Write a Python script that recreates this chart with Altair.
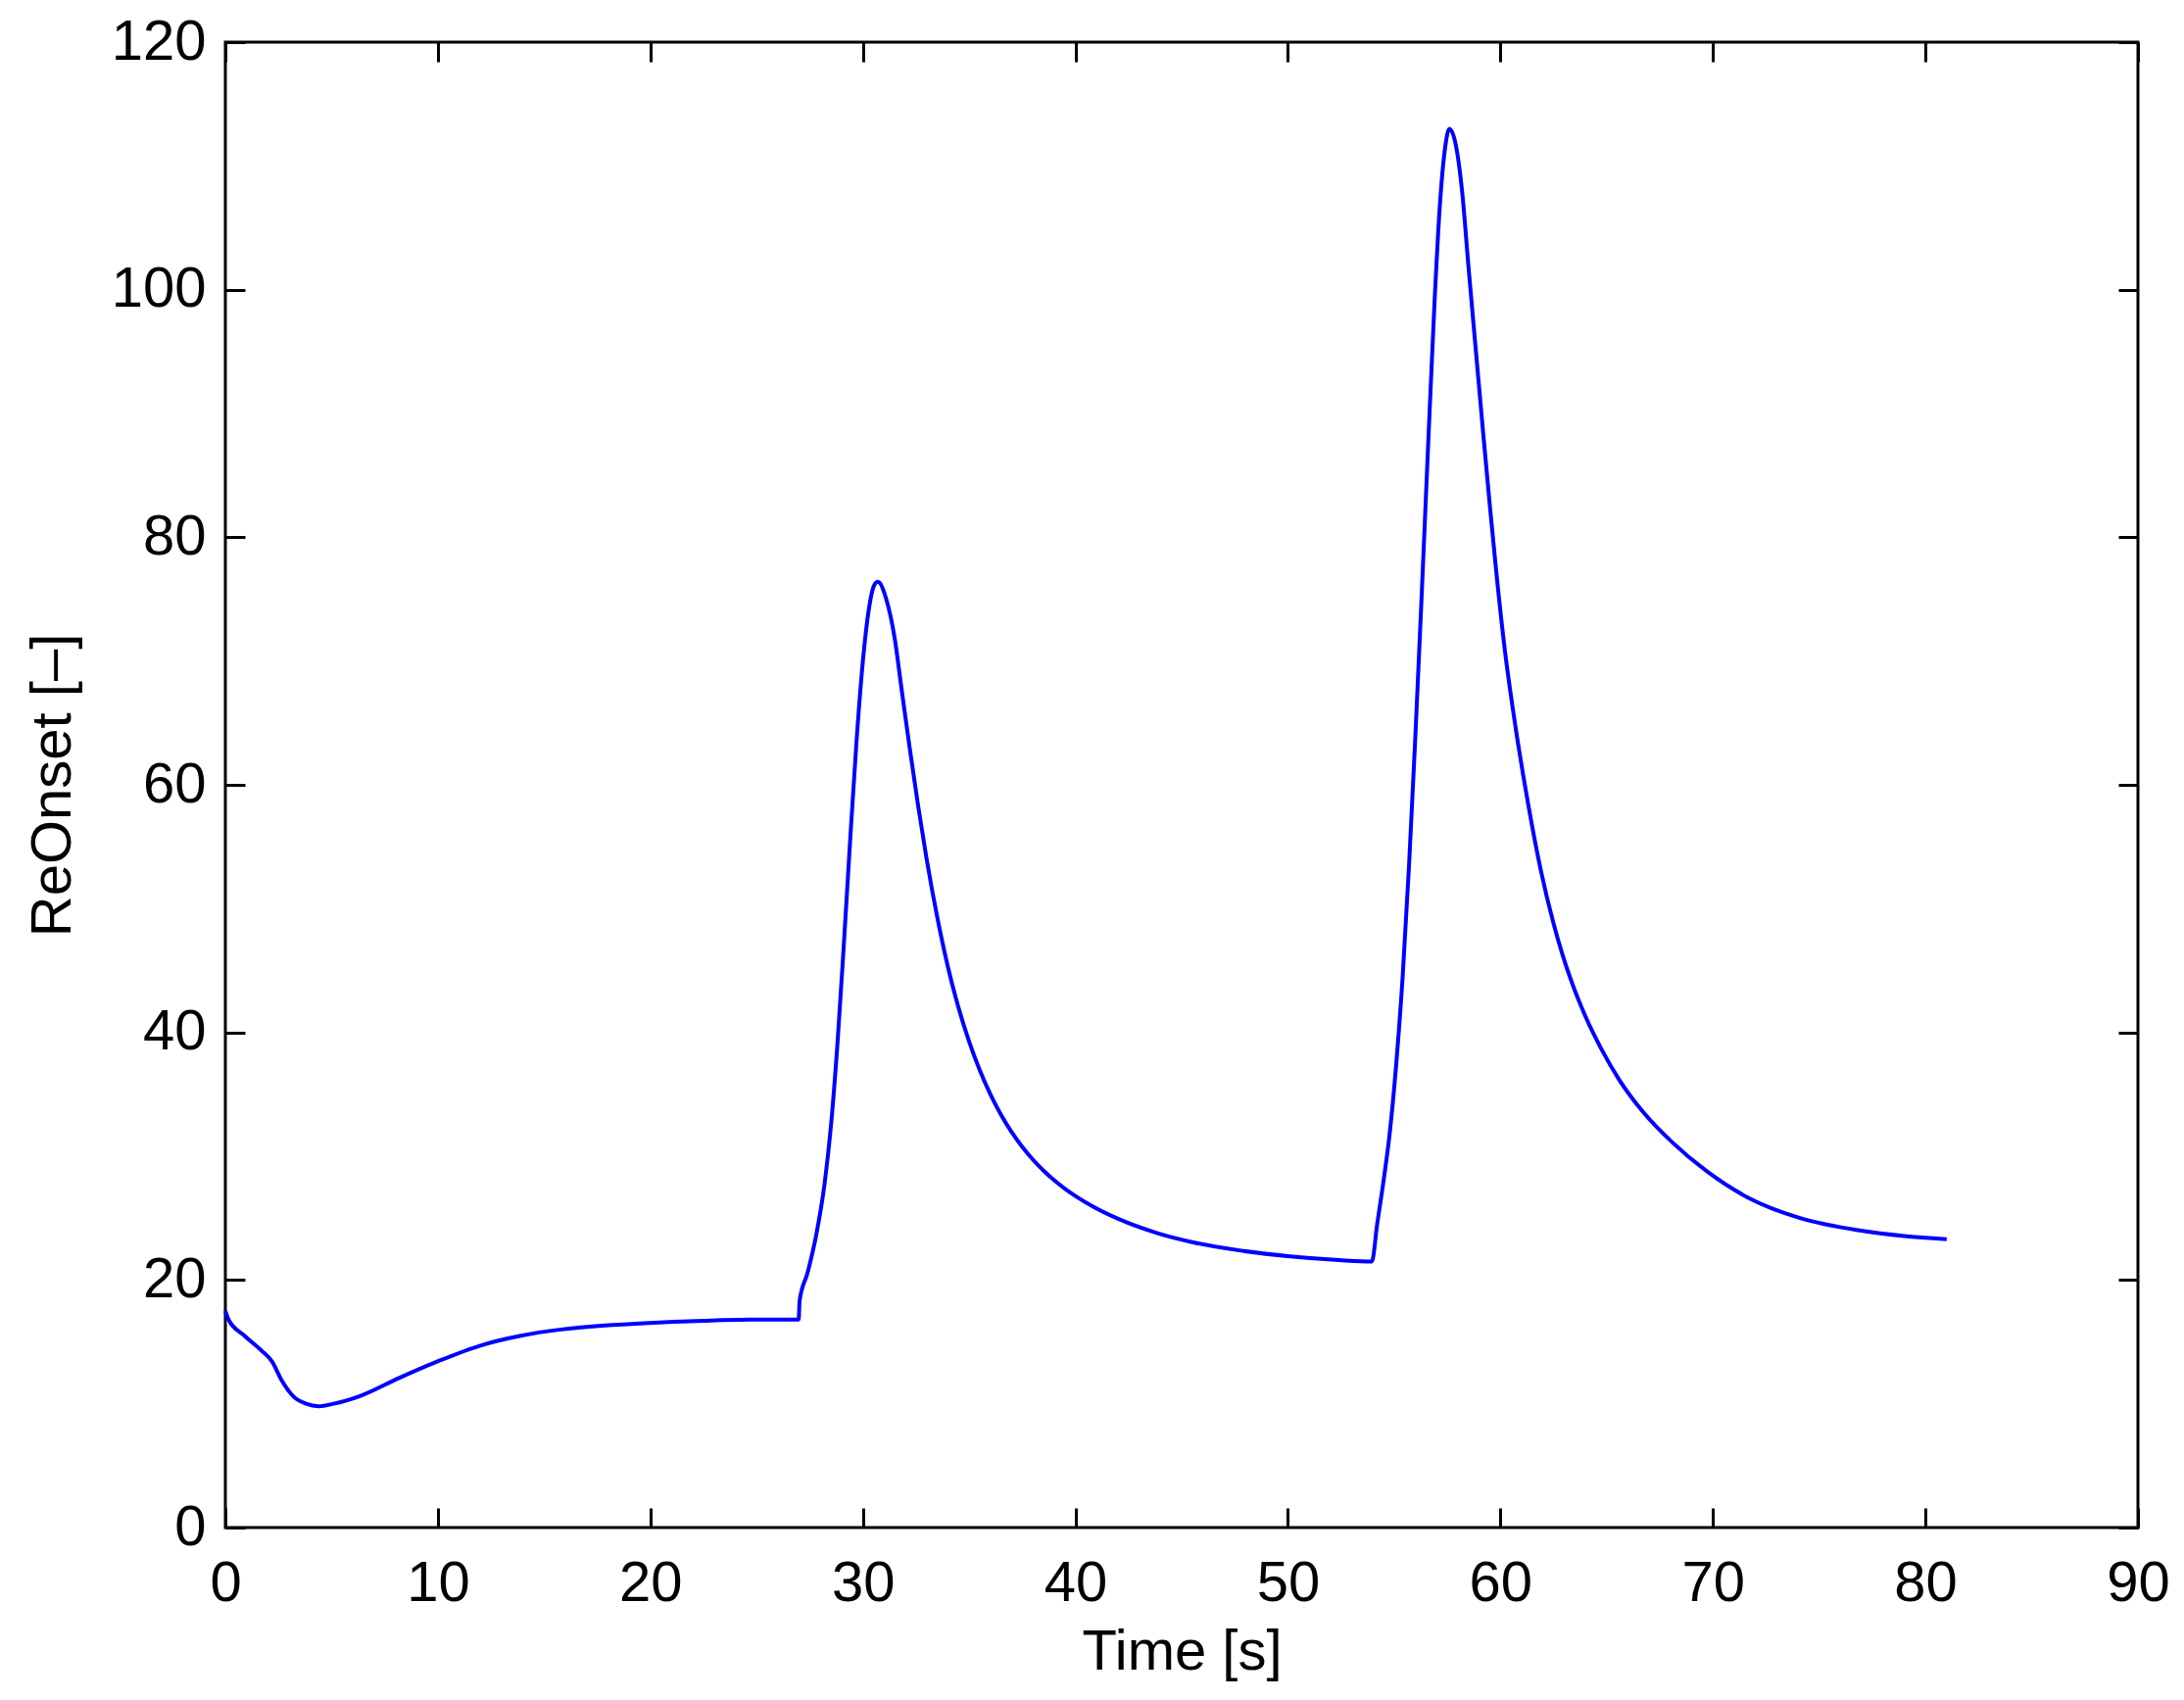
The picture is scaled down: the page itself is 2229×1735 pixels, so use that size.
import altair as alt
import pandas as pd

# Time [s] and ReOnset [-]
time_s = [0.0, 0.15, 0.9, 1.7, 2.2, 2.65, 3.2, 3.8, 4.4, 5.1, 6.3, 8.2, 10.1, 12.0,
          13.9, 15.8, 17.7, 19.7, 22.5, 25.0, 26.98, 27.02, 27.4, 27.8, 28.2, 28.5,
          28.8, 29.1, 29.4, 29.7, 30.0, 30.3, 30.5, 30.7, 31.1, 31.5, 31.8, 32.2,
          32.6, 33.0, 33.5, 34.0, 34.5, 35.0, 35.5, 36.0, 36.5, 37.0, 37.5, 38.0,
          38.5, 39.0, 39.5, 40.0, 40.9, 42.4, 43.9, 45.5, 47.8, 50.1, 52.4, 53.95,
          54.2, 54.5, 54.8, 55.1, 55.4, 55.7, 56.0, 56.3, 56.6, 56.9, 57.15, 57.4,
          57.6, 57.9, 58.2, 58.5, 58.9, 59.2, 59.5, 59.8, 60.2, 60.7, 61.3, 61.9,
          62.5, 62.9, 63.4, 64.0, 64.8, 65.6, 66.7, 68.1, 69.7, 71.6, 74.1, 76.9,
          79.0, 81.0]
re_onset = [17.5, 16.8, 15.5, 14.3, 13.4, 11.9, 10.6, 10.0, 9.8, 10.0, 10.6, 12.1,
            13.5, 14.7, 15.5, 16.0, 16.3, 16.5, 16.7, 16.8, 16.8, 18.3, 20.6, 23.6,
            27.8, 32.5, 39.0, 47.0, 55.5, 63.5, 70.0, 74.4, 76.0, 76.4, 75.0, 71.8,
            68.0, 63.0, 58.3, 54.0, 49.3, 45.3, 42.0, 39.25, 36.95, 35.0, 33.35,
            31.95, 30.75, 29.72, 28.83, 28.06, 27.38, 26.78, 25.86, 24.66, 23.76,
            23.06, 22.37, 21.91, 21.61, 21.49, 24.5, 28.0, 32.0, 37.5, 44.5, 53.5,
            64.0, 75.5, 87.5, 99.0, 106.8, 111.5, 113.0, 111.7, 107.9, 101.8, 94.0,
            88.2, 82.6, 77.3, 71.0, 64.8, 58.5, 53.1, 48.8, 46.4, 43.85, 41.3, 38.5,
            36.15, 33.6, 31.1, 28.8, 26.7, 25.0, 24.0, 23.55, 23.3]

x_ticks = [0, 10, 20, 30, 40, 50, 60, 70, 80, 90]
y_ticks = [0, 20, 40, 60, 80, 100, 120]

df = pd.DataFrame({"t": time_s, "v": re_onset})

FONT = "Liberation Sans"
FS = 58
TICK = 20

xscale = alt.Scale(domain=[0, 90], nice=False, zero=False)
yscale = alt.Scale(domain=[0, 120], nice=False)

main = alt.Chart(df).mark_line(color="#0000FF", strokeWidth=4, interpolate="monotone").encode(
    x=alt.X("t:Q", scale=xscale, title="Time [s]",
            axis=alt.Axis(orient="bottom", values=x_ticks, offset=-TICK, tickSize=TICK,
                          tickWidth=3, tickColor="black", domain=False, grid=False,
                          labelFont=FONT, labelFontSize=FS, labelColor="black",
                          labelPadding=28, labelFlush=False, labelOverlap=False,
                          titleFont=FONT, titleFontSize=FS, titleFontWeight="normal",
                          titleColor="black", titlePadding=12)),
    y=alt.Y("v:Q", scale=yscale, title="ReOnset [–]",
            axis=alt.Axis(orient="left", values=y_ticks, offset=-TICK, tickSize=TICK,
                          tickWidth=3, tickColor="black", domain=False, grid=False,
                          labelFont=FONT, labelFontSize=FS, labelColor="black",
                          labelPadding=20, labelFlush=False, labelOverlap=False,
                          titleFont=FONT, titleFontSize=FS, titleFontWeight="normal",
                          titleColor="black", titlePadding=30)),
)

mirror = alt.Chart(df).mark_line(strokeOpacity=0).encode(
    x=alt.X("t:Q", scale=xscale, title=None,
            axis=alt.Axis(orient="top", values=x_ticks, offset=-TICK, tickSize=TICK,
                          tickWidth=3, tickColor="black", domain=False, grid=False,
                          labels=False)),
    y=alt.Y("v:Q", scale=yscale, title=None,
            axis=alt.Axis(orient="right", values=y_ticks, offset=-TICK, tickSize=TICK,
                          tickWidth=3, tickColor="black", domain=False, grid=False,
                          labels=False)),
)

chart = alt.layer(main, mirror).resolve_axis(x="independent", y="independent").properties(
    width=1952,
    height=1516,
    autosize=alt.AutoSizeParams(type="none"),
    padding={"left": 222, "top": 35, "right": 39, "bottom": 168},
    background="white",
).configure_view(stroke="black", strokeWidth=3)

chart.save("out.html", embed_options={"renderer": "svg", "actions": False})
